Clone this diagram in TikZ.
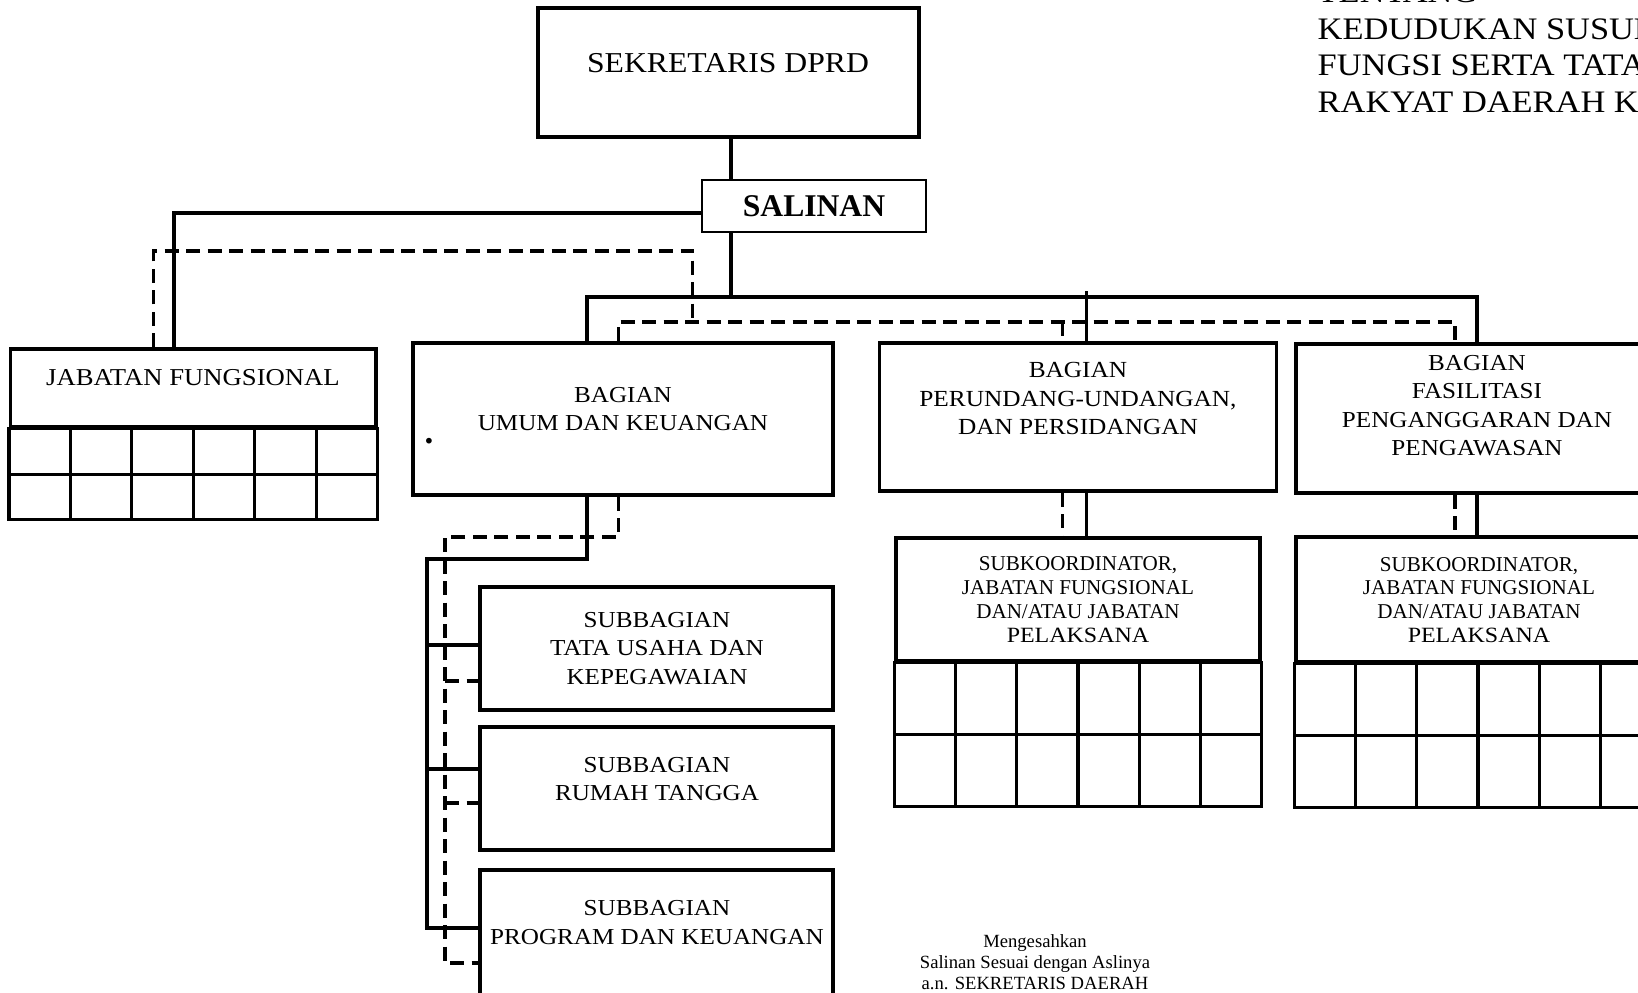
\documentclass[tikz,border=0pt]{standalone}
\usepackage{fontspec}
\setmainfont{Liberation Serif}
\newfontfamily\bookfont[FakeStretch=1.1]{Liberation Serif}
\usetikzlibrary{calc}

\begin{document}
\begin{tikzpicture}[x=0.1mm, y=-0.1mm,
  box/.style={draw, fill=white, line width=0.9pt, inner sep=0pt},
  conn/.style={line width=0.9pt},
  dconn/.style={line width=0.9pt, dash pattern=on 1.4mm off 0.75mm},
  unit/.style={align=center, inner sep=0pt, font=\bookfont\fontsize{6.5}{8.1}\selectfont},
  staff/.style={align=center, inner sep=0pt, font=\fontsize{6}{6.8}\selectfont}]

% Page
\useasboundingbox (0,0) rectangle (1638,992);
\clip (0,0) rectangle (1638,992);
\fill[white] (0,0) rectangle (1638,992);

% --- Boxes ---
\node[box, minimum width=38.1mm, minimum height=12.9mm] (sekr) at (728.5,72.5) {};
\node[unit, font=\bookfont\fontsize{8.2}{9}\selectfont] (sekr-t) at (728,63) {SEKRETARIS DPRD};

\node[box, line width=0.6pt, minimum width=22.4mm, minimum height=5.2mm,
      font=\bfseries\fontsize{9}{10}\selectfont] (salin) at (814,206) {SALINAN};

\node[box, minimum width=36.55mm, minimum height=7.8mm] (jf) at (193.25,388) {};
\node[unit, font=\bookfont\fontsize{6.9}{8}\selectfont] (jf-t) at (193,378) {JABATAN FUNGSIONAL};

\node[box, minimum width=42mm, minimum height=15.2mm] (umum) at (623,419) {};
\node[unit] (umum-t) at (623,409) {BAGIAN\\UMUM DAN KEUANGAN};
\node[unit, font=\bfseries\fontsize{10}{10}\selectfont] (umum-dot) at (429,441) {.};

\node[box, minimum width=39.65mm, minimum height=14.8mm] (perund) at (1078,417) {};
\node[unit, font=\bookfont\fontsize{6.55}{8.1}\selectfont] (perund-t) at (1078,398.5)
  {BAGIAN\\PERUNDANG-UNDANGAN,\\DAN PERSIDANGAN};

\node[box, minimum width=36.2mm, minimum height=14.9mm] (fasil) at (1477,418.5) {};
\node[unit] (fasil-t) at (1477,405.75)
  {BAGIAN\\FASILITASI\\PENGANGGARAN DAN\\PENGAWASAN};

\node[box, minimum width=35.3mm, minimum height=12.3mm] (sub1) at (656.5,648.5) {};
\node[unit] (sub1-t) at (657,648.5) {SUBBAGIAN\\TATA USAHA DAN\\KEPEGAWAIAN};

\node[box, minimum width=35.3mm, minimum height=12.3mm] (sub2) at (656.5,788.5) {};
\node[unit] (sub2-t) at (657,779) {SUBBAGIAN\\RUMAH TANGGA};

\node[box, minimum width=35.3mm, minimum height=13mm] (sub3) at (656.5,935) {};
\node[unit] (sub3-t) at (657,922.5) {SUBBAGIAN\\PROGRAM DAN KEUANGAN};

\node[box, minimum width=36.4mm, minimum height=12.3mm] (koor1) at (1078,599.5) {};
\node[staff] (koor1-t) at (1078,599.5)
  {SUBKOORDINATOR,\\JABATAN FUNGSIONAL\\DAN/ATAU JABATAN\\{\bookfont\fontsize{6.2}{6.8}\selectfont PELAKSANA}};

\node[box, minimum width=36.4mm, minimum height=12.5mm] (koor2) at (1478,599.5) {};
\node[staff] (koor2-t) at (1479,600)
  {SUBKOORDINATOR,\\JABATAN FUNGSIONAL\\DAN/ATAU JABATAN\\{\bookfont\fontsize{6.2}{6.8}\selectfont PELAKSANA}};

% --- Grids under the staff boxes ---
\draw[conn] (jf.south west) rectangle ($(jf.south east)+(0,91)$);
\draw[conn] ($(jf.south west)+(0,46)$) -- ($(jf.south east)+(0,46)$);
\foreach \i in {1,...,5}
  \draw[conn] ($(jf.south west)!\i/6!(jf.south east)$) -- ++(0,91);

\foreach \k in {koor1,koor2} {
  \draw[conn] (\k.south west) rectangle ($(\k.south east)+(0,144)$);
  \draw[conn] ($(\k.south west)+(0,72)$) -- ($(\k.south east)+(0,72)$);
  \foreach \i in {1,...,5}
    \draw[conn] ($(\k.south west)!\i/6!(\k.south east)$) -- ++(0,144);
}

% --- Key points ---
\coordinate (trunk) at (731,297);
\coordinate (jfturn) at (174,213);
\coordinate (jfdash) at (153.6,251);
\coordinate (dturn) at (692.6,251);
\coordinate (dbus) at (692.6,322);
\coordinate (busU) at (587,297);
\coordinate (busP) at (1086.5,297);
\coordinate (busF) at (1477,297);
\coordinate (dU) at (618.5,322);
\coordinate (dP) at (1062.5,322);
\coordinate (dF) at (1455,322);
\coordinate (tu1) at (427,559);
\coordinate (tu2) at (427,928);
\coordinate (br1) at (427,645);
\coordinate (br2) at (427,769);
\coordinate (du1) at (445,537);
\coordinate (du2) at (445,963);
\coordinate (dr1) at (445,681);
\coordinate (dr2) at (445,803);

% --- Solid lines of command ---
\draw[conn] (sekr.south -| trunk) -- (salin.north -| trunk);
\draw[conn] (salin.south -| trunk) -- (trunk);
\draw[conn] (salin.west |- jfturn) -- (jfturn) -- (jfturn |- jf.north);
\draw[conn] (busU |- umum.north) -- (busU) -- (busF) -- (busF |- fasil.north);
\draw[conn] ($(busP)+(0,-6)$) -- (busP |- perund.north);
\draw[conn] (busU |- umum.south) |- (tu1) -- (tu2) -- (tu2 -| sub3.west);
\draw[conn] (br1) -- (br1 -| sub1.west);
\draw[conn] (br2) -- (br2 -| sub2.west);
\draw[conn] (busP |- perund.south) -- (busP |- koor1.north);
\draw[conn] (busF |- fasil.south) -- (busF |- koor2.north);

% --- Dashed lines of coordination ---
\draw[dconn] (jfdash |- jf.north) -- (jfdash) -- (dturn) -- (dbus);
\draw[dconn] (dU |- umum.north) -- (dU) -- (dF) -- (dF |- fasil.north);
\draw[dconn] (dP) -- (dP |- perund.north);
\draw[dconn] (dU |- umum.south) |- (du1) -- (du2) -- (du2 -| sub3.west);
\draw[dconn] (dr1) -- (dr1 -| sub1.west);
\draw[dconn] (dr2) -- (dr2 -| sub2.west);
\draw[dconn] (dP |- perund.south) -- (dP |- koor1.north);
\draw[dconn] (dF |- fasil.south) -- (dF |- koor2.north);

% --- Heading and endorsement ---
\node[align=left, inner sep=0pt, anchor=north west,
      font=\bookfont\fontsize{8.9}{10.4}\selectfont] (head) at (1317,-18.6)
  {TENTANG\\KEDUDUKAN SUSUN\\FUNGSI SERTA TATA\\RAKYAT DAERAH KA};

\node[align=center, inner sep=0pt, font=\fontsize{5.3}{6}\selectfont] (sah) at (1035,962.5)
  {Mengesahkan\\Salinan Sesuai dengan Aslinya\\a.n. SEKRETARIS DAERAH};

\end{tikzpicture}
\end{document}
